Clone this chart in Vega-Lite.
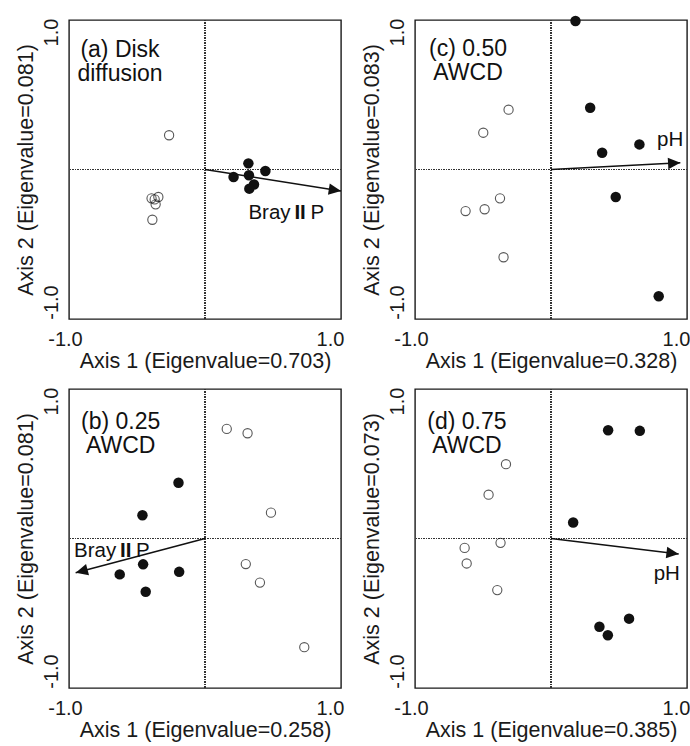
{
  "$schema": "https://vega.github.io/schema/vega-lite/v6.json",
  "background": "white",
  "padding": {"left": 14, "top": 15, "right": 4, "bottom": 2},
  "config": {
    "font": "Liberation Sans",
    "view": {"stroke": "#1a1a1a", "strokeWidth": 1.4},
    "axis": {
      "grid": false, "ticks": false, "domain": false,
      "labelFontSize": 20, "titleFontSize": 21.5, "titleFontWeight": "normal",
      "labelColor": "#1a1a1a", "titleColor": "#1a1a1a",
      "labelExpr": "datum.value < 0 ? '-1.0' : '1.0'"
    },
    "axisX": {"labelFlush": false, "labelPadding": 10, "titlePadding": 1, "labelOffset": {"condition": {"test": "datum.value > 0", "value": -11}, "value": -4}},
    "axisY": {"labelAngle": -90, "labelPadding": 8, "titlePadding": 4, "labelOffset": {"condition": {"test": "datum.value > 0", "value": 12}, "value": -17}},
    "point": {"size": 110}
  },
  "columns": 2,
  "bounds": "flush",
  "spacing": {"row": 70, "column": 74},
  "concat": [
    {
      "width": 272, "height": 299,
      "data": {"values": [
        {"kind": "site", "grp": "open", "x": -0.264, "y": 0.229},
        {"kind": "site", "grp": "open", "x": -0.393, "y": -0.193},
        {"kind": "site", "grp": "open", "x": -0.343, "y": -0.184},
        {"kind": "site", "grp": "open", "x": -0.363, "y": -0.233},
        {"kind": "site", "grp": "open", "x": -0.37, "y": -0.2},
        {"kind": "site", "grp": "open", "x": -0.387, "y": -0.336},
        {"kind": "site", "grp": "filled", "x": 0.319, "y": 0.041},
        {"kind": "site", "grp": "filled", "x": 0.444, "y": -0.01},
        {"kind": "site", "grp": "filled", "x": 0.21, "y": -0.05},
        {"kind": "site", "grp": "filled", "x": 0.323, "y": -0.039},
        {"kind": "site", "grp": "filled", "x": 0.36, "y": -0.1},
        {"kind": "site", "grp": "filled", "x": 0.326, "y": -0.128},
        {"kind": "arrow", "x": 0, "y": 0, "x2": 1.0, "y2": -0.144},
        {"kind": "panel", "x": -0.625, "y": 0.753, "label": "(a) Disk\ndiffusion"},
        {"kind": "var", "x": 0.319, "y": -0.333, "w1": "Bray", "w2": "II", "w3": "P"}
      ]},
      "encoding": {
        "x": {"field": "x", "type": "quantitative", "scale": {"domain": [-1, 1], "nice": false, "zero": false}, "axis": {"values": [-1, 1]}, "title": "Axis 1 (Eigenvalue=0.703)"},
        "y": {"field": "y", "type": "quantitative", "scale": {"domain": [-1, 1], "nice": false, "zero": false}, "axis": {"values": [-1, 1]}, "title": "Axis 2 (Eigenvalue=0.081)"}
      },
      "layer": [
        {"mark": {"type": "rule", "strokeDash": [1, 1.5], "color": "#333", "strokeWidth": 1}, "encoding": {"x": {"datum": 0}, "y": null}},
        {"mark": {"type": "rule", "strokeDash": [1, 1.5], "color": "#333", "strokeWidth": 1}, "encoding": {"y": {"datum": 0}, "x": null}},
        {"transform": [{"filter": "datum.kind == 'site' && datum.grp == 'open'"}], "mark": {"type": "point", "shape": "circle", "filled": false, "color": "#111", "strokeWidth": 1.1, "size": 85}},
        {"transform": [{"filter": "datum.kind == 'site' && datum.grp == 'filled'"}], "mark": {"type": "point", "shape": "circle", "filled": true, "color": "#111", "opacity": 1}},
        {"transform": [{"filter": "datum.kind == 'arrow'"}], "mark": {"type": "rule", "color": "#111", "strokeWidth": 1.5}, "encoding": {"x2": {"field": "x2"}, "y2": {"field": "y2"}}},
        {"transform": [{"filter": "datum.kind == 'arrow'"}], "mark": {"type": "point", "shape": "M0,0L-1,-0.47L-1,0.47Z", "filled": true, "color": "#111", "opacity": 1, "size": 605, "angle": 9}, "encoding": {"x": {"field": "x2", "type": "quantitative"}, "y": {"field": "y2", "type": "quantitative"}}},
        {"transform": [{"filter": "datum.kind == 'panel'"}], "mark": {"type": "text", "fontSize": 23, "lineHeight": 24, "lineBreak": "\n", "align": "center", "baseline": "alphabetic", "color": "#111"}, "encoding": {"text": {"field": "label"}}},
        {"transform": [{"filter": "datum.kind == 'var'"}], "mark": {"type": "text", "fontSize": 20.5, "align": "left", "baseline": "alphabetic", "color": "#111"}, "encoding": {"text": {"field": "w1"}}},
        {"transform": [{"filter": "datum.kind == 'var'"}], "mark": {"type": "text", "fontSize": 20.5, "fontWeight": "bold", "align": "left", "baseline": "alphabetic", "dx": 46, "color": "#111"}, "encoding": {"text": {"field": "w2"}}},
        {"transform": [{"filter": "datum.kind == 'var'"}], "mark": {"type": "text", "fontSize": 20.5, "align": "left", "baseline": "alphabetic", "dx": 62, "color": "#111"}, "encoding": {"text": {"field": "w3"}}}
      ]
    },
    {
      "width": 272, "height": 299,
      "data": {"values": [
        {"kind": "site", "grp": "filled", "x": 0.18, "y": 0.993},
        {"kind": "site", "grp": "filled", "x": 0.288, "y": 0.413},
        {"kind": "site", "grp": "filled", "x": 0.376, "y": 0.112},
        {"kind": "site", "grp": "filled", "x": 0.65, "y": 0.168},
        {"kind": "site", "grp": "filled", "x": 0.476, "y": -0.184},
        {"kind": "site", "grp": "filled", "x": 0.792, "y": -0.848},
        {"kind": "site", "grp": "open", "x": -0.312, "y": 0.4},
        {"kind": "site", "grp": "open", "x": -0.498, "y": 0.246},
        {"kind": "site", "grp": "open", "x": -0.375, "y": -0.193},
        {"kind": "site", "grp": "open", "x": -0.488, "y": -0.266},
        {"kind": "site", "grp": "open", "x": -0.628, "y": -0.278},
        {"kind": "site", "grp": "open", "x": -0.349, "y": -0.587},
        {"kind": "arrow", "x": 0, "y": 0, "x2": 0.951, "y2": 0.045},
        {"kind": "panel", "x": -0.61, "y": 0.76, "label": "(c) 0.50\nAWCD"},
        {"kind": "var", "x": 0.78, "y": 0.157, "w1": "pH"}
      ]},
      "encoding": {
        "x": {"field": "x", "type": "quantitative", "scale": {"domain": [-1, 1], "nice": false, "zero": false}, "axis": {"values": [-1, 1]}, "title": "Axis 1 (Eigenvalue=0.328)"},
        "y": {"field": "y", "type": "quantitative", "scale": {"domain": [-1, 1], "nice": false, "zero": false}, "axis": {"values": [-1, 1]}, "title": "Axis 2 (Eigenvalue=0.083)"}
      },
      "layer": [
        {"mark": {"type": "rule", "strokeDash": [1, 1.5], "color": "#333", "strokeWidth": 1}, "encoding": {"x": {"datum": 0}, "y": null}},
        {"mark": {"type": "rule", "strokeDash": [1, 1.5], "color": "#333", "strokeWidth": 1}, "encoding": {"y": {"datum": 0}, "x": null}},
        {"transform": [{"filter": "datum.kind == 'site' && datum.grp == 'open'"}], "mark": {"type": "point", "shape": "circle", "filled": false, "color": "#111", "strokeWidth": 1.1, "size": 85}},
        {"transform": [{"filter": "datum.kind == 'site' && datum.grp == 'filled'"}], "mark": {"type": "point", "shape": "circle", "filled": true, "color": "#111", "opacity": 1}},
        {"transform": [{"filter": "datum.kind == 'arrow'"}], "mark": {"type": "rule", "color": "#111", "strokeWidth": 1.5}, "encoding": {"x2": {"field": "x2"}, "y2": {"field": "y2"}}},
        {"transform": [{"filter": "datum.kind == 'arrow'"}], "mark": {"type": "point", "shape": "M0,0L-1,-0.47L-1,0.47Z", "filled": true, "color": "#111", "opacity": 1, "size": 605, "angle": -3}, "encoding": {"x": {"field": "x2", "type": "quantitative"}, "y": {"field": "y2", "type": "quantitative"}}},
        {"transform": [{"filter": "datum.kind == 'panel'"}], "mark": {"type": "text", "fontSize": 23, "lineHeight": 24, "lineBreak": "\n", "align": "center", "baseline": "alphabetic", "color": "#111"}, "encoding": {"text": {"field": "label"}}},
        {"transform": [{"filter": "datum.kind == 'var'"}], "mark": {"type": "text", "fontSize": 20.5, "align": "left", "baseline": "alphabetic", "color": "#111"}, "encoding": {"text": {"field": "w1"}}}
      ]
    },
    {
      "width": 272, "height": 299,
      "data": {"values": [
        {"kind": "site", "grp": "filled", "x": -0.195, "y": 0.373},
        {"kind": "site", "grp": "filled", "x": -0.46, "y": 0.155},
        {"kind": "site", "grp": "filled", "x": -0.455, "y": -0.173},
        {"kind": "site", "grp": "filled", "x": -0.627, "y": -0.24},
        {"kind": "site", "grp": "filled", "x": -0.19, "y": -0.223},
        {"kind": "site", "grp": "filled", "x": -0.436, "y": -0.356},
        {"kind": "site", "grp": "open", "x": 0.16, "y": 0.733},
        {"kind": "site", "grp": "open", "x": 0.313, "y": 0.704},
        {"kind": "site", "grp": "open", "x": 0.485, "y": 0.173},
        {"kind": "site", "grp": "open", "x": 0.3, "y": -0.171},
        {"kind": "site", "grp": "open", "x": 0.404, "y": -0.295},
        {"kind": "site", "grp": "open", "x": 0.73, "y": -0.727},
        {"kind": "arrow", "x": 0, "y": 0, "x2": -0.951, "y2": -0.229},
        {"kind": "panel", "x": -0.62, "y": 0.735, "label": "(b) 0.25\nAWCD"},
        {"kind": "var", "x": -0.963, "y": -0.123, "w1": "Bray", "w2": "II", "w3": "P"}
      ]},
      "encoding": {
        "x": {"field": "x", "type": "quantitative", "scale": {"domain": [-1, 1], "nice": false, "zero": false}, "axis": {"values": [-1, 1]}, "title": "Axis 1 (Eigenvalue=0.258)"},
        "y": {"field": "y", "type": "quantitative", "scale": {"domain": [-1, 1], "nice": false, "zero": false}, "axis": {"values": [-1, 1]}, "title": "Axis 2 (Eigenvalue=0.081)"}
      },
      "layer": [
        {"mark": {"type": "rule", "strokeDash": [1, 1.5], "color": "#333", "strokeWidth": 1}, "encoding": {"x": {"datum": 0}, "y": null}},
        {"mark": {"type": "rule", "strokeDash": [1, 1.5], "color": "#333", "strokeWidth": 1}, "encoding": {"y": {"datum": 0}, "x": null}},
        {"transform": [{"filter": "datum.kind == 'site' && datum.grp == 'open'"}], "mark": {"type": "point", "shape": "circle", "filled": false, "color": "#111", "strokeWidth": 1.1, "size": 85}},
        {"transform": [{"filter": "datum.kind == 'site' && datum.grp == 'filled'"}], "mark": {"type": "point", "shape": "circle", "filled": true, "color": "#111", "opacity": 1}},
        {"transform": [{"filter": "datum.kind == 'arrow'"}], "mark": {"type": "rule", "color": "#111", "strokeWidth": 1.5}, "encoding": {"x2": {"field": "x2"}, "y2": {"field": "y2"}}},
        {"transform": [{"filter": "datum.kind == 'arrow'"}], "mark": {"type": "point", "shape": "M0,0L-1,-0.47L-1,0.47Z", "filled": true, "color": "#111", "opacity": 1, "size": 605, "angle": 165}, "encoding": {"x": {"field": "x2", "type": "quantitative"}, "y": {"field": "y2", "type": "quantitative"}}},
        {"transform": [{"filter": "datum.kind == 'panel'"}], "mark": {"type": "text", "fontSize": 23, "lineHeight": 24, "lineBreak": "\n", "align": "center", "baseline": "alphabetic", "color": "#111"}, "encoding": {"text": {"field": "label"}}},
        {"transform": [{"filter": "datum.kind == 'var'"}], "mark": {"type": "text", "fontSize": 20.5, "align": "left", "baseline": "alphabetic", "color": "#111"}, "encoding": {"text": {"field": "w1"}}},
        {"transform": [{"filter": "datum.kind == 'var'"}], "mark": {"type": "text", "fontSize": 20.5, "fontWeight": "bold", "align": "left", "baseline": "alphabetic", "dx": 46, "color": "#111"}, "encoding": {"text": {"field": "w2"}}},
        {"transform": [{"filter": "datum.kind == 'var'"}], "mark": {"type": "text", "fontSize": 20.5, "align": "left", "baseline": "alphabetic", "dx": 62, "color": "#111"}, "encoding": {"text": {"field": "w3"}}}
      ]
    },
    {
      "width": 272, "height": 299,
      "data": {"values": [
        {"kind": "site", "grp": "filled", "x": 0.42, "y": 0.724},
        {"kind": "site", "grp": "filled", "x": 0.653, "y": 0.72},
        {"kind": "site", "grp": "filled", "x": 0.163, "y": 0.107},
        {"kind": "site", "grp": "filled", "x": 0.356, "y": -0.59},
        {"kind": "site", "grp": "filled", "x": 0.418, "y": -0.647},
        {"kind": "site", "grp": "filled", "x": 0.574, "y": -0.536},
        {"kind": "site", "grp": "open", "x": -0.331, "y": 0.497},
        {"kind": "site", "grp": "open", "x": -0.459, "y": 0.293},
        {"kind": "site", "grp": "open", "x": -0.371, "y": -0.029},
        {"kind": "site", "grp": "open", "x": -0.635, "y": -0.063},
        {"kind": "site", "grp": "open", "x": -0.62, "y": -0.167},
        {"kind": "site", "grp": "open", "x": -0.395, "y": -0.345},
        {"kind": "arrow", "x": 0, "y": 0, "x2": 0.939, "y2": -0.103},
        {"kind": "panel", "x": -0.618, "y": 0.735, "label": "(d) 0.75\nAWCD"},
        {"kind": "var", "x": 0.755, "y": -0.276, "w1": "pH"}
      ]},
      "encoding": {
        "x": {"field": "x", "type": "quantitative", "scale": {"domain": [-1, 1], "nice": false, "zero": false}, "axis": {"values": [-1, 1]}, "title": "Axis 1 (Eigenvalue=0.385)"},
        "y": {"field": "y", "type": "quantitative", "scale": {"domain": [-1, 1], "nice": false, "zero": false}, "axis": {"values": [-1, 1]}, "title": "Axis 2 (Eigenvalue=0.073)"}
      },
      "layer": [
        {"mark": {"type": "rule", "strokeDash": [1, 1.5], "color": "#333", "strokeWidth": 1}, "encoding": {"x": {"datum": 0}, "y": null}},
        {"mark": {"type": "rule", "strokeDash": [1, 1.5], "color": "#333", "strokeWidth": 1}, "encoding": {"y": {"datum": 0}, "x": null}},
        {"transform": [{"filter": "datum.kind == 'site' && datum.grp == 'open'"}], "mark": {"type": "point", "shape": "circle", "filled": false, "color": "#111", "strokeWidth": 1.1, "size": 85}},
        {"transform": [{"filter": "datum.kind == 'site' && datum.grp == 'filled'"}], "mark": {"type": "point", "shape": "circle", "filled": true, "color": "#111", "opacity": 1}},
        {"transform": [{"filter": "datum.kind == 'arrow'"}], "mark": {"type": "rule", "color": "#111", "strokeWidth": 1.5}, "encoding": {"x2": {"field": "x2"}, "y2": {"field": "y2"}}},
        {"transform": [{"filter": "datum.kind == 'arrow'"}], "mark": {"type": "point", "shape": "M0,0L-1,-0.47L-1,0.47Z", "filled": true, "color": "#111", "opacity": 1, "size": 605, "angle": 7}, "encoding": {"x": {"field": "x2", "type": "quantitative"}, "y": {"field": "y2", "type": "quantitative"}}},
        {"transform": [{"filter": "datum.kind == 'panel'"}], "mark": {"type": "text", "fontSize": 23, "lineHeight": 24, "lineBreak": "\n", "align": "center", "baseline": "alphabetic", "color": "#111"}, "encoding": {"text": {"field": "label"}}},
        {"transform": [{"filter": "datum.kind == 'var'"}], "mark": {"type": "text", "fontSize": 20.5, "align": "left", "baseline": "alphabetic", "color": "#111"}, "encoding": {"text": {"field": "w1"}}}
      ]
    }
  ]
}
